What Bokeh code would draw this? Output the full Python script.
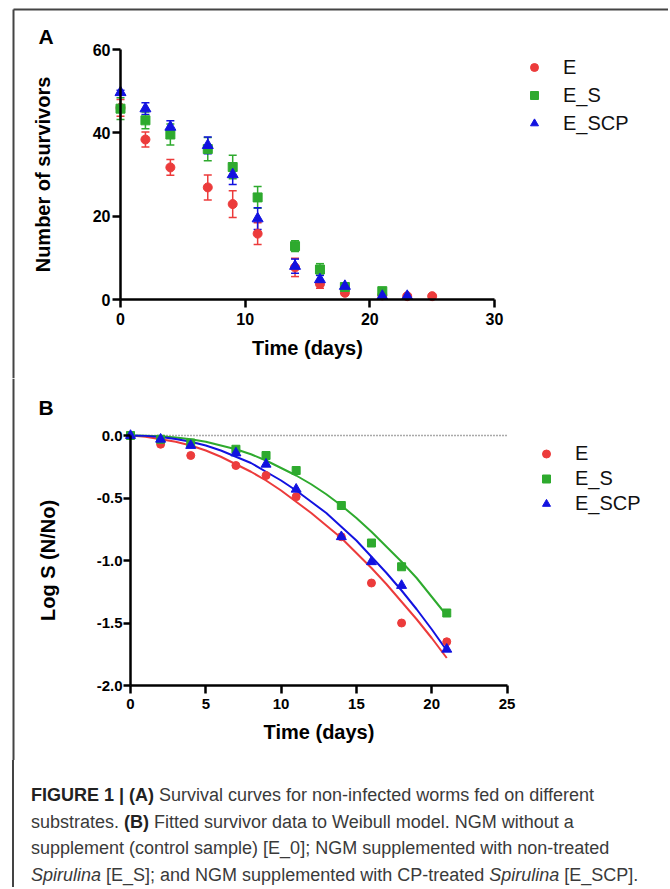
from bokeh.plotting import figure
from bokeh.models import (ColumnDataSource, Whisker, TeeHead, Legend, LegendItem, FixedTicker,
                          NumeralTickFormatter, Span, Label, Div, Range1d)
from bokeh.layouts import column
from bokeh.embed import file_html
from bokeh.resources import INLINE

# ---------------- data ----------------
# Panel A: number of survivors (mean +/- error)
days_E = [0, 2, 4, 7, 9, 11, 14, 16, 18, 21, 23, 25]
E_mean = [46.0, 38.4, 31.7, 26.9, 22.9, 15.8, 7.7, 3.7, 1.6, 1.0, 0.8, 0.8]
E_err = [2.0, 1.8, 1.9, 3.0, 3.2, 2.6, 2.2, 1.0, 0.6, 0.4, 0.3, 0.3]

days_ES = [0, 2, 4, 7, 9, 11, 14, 16, 18, 21]
ES_mean = [45.8, 43.0, 39.6, 36.1, 31.8, 24.5, 12.8, 7.2, 3.0, 2.0]
ES_err = [2.6, 2.0, 2.5, 2.8, 2.8, 2.6, 1.3, 1.4, 0.8, 0.5]

days_ESCP = [0, 2, 4, 7, 9, 11, 14, 16, 18, 21, 23]
ESCP_mean = [49.7, 45.8, 41.4, 37.0, 30.0, 19.4, 8.0, 4.8, 3.2, 0.8, 0.8]
ESCP_err = [0.5, 1.4, 1.5, 2.0, 2.4, 2.6, 1.7, 1.0, 0.8, 0.3, 0.3]

# Panel B: Log S (N/No) observations
days_B = [0, 2, 4, 7, 9, 11, 14, 16, 18, 21]
logE = [0.0, -0.07, -0.16, -0.24, -0.32, -0.49, -0.81, -1.18, -1.50, -1.65]
logES = [0.0, -0.03, -0.06, -0.11, -0.16, -0.28, -0.56, -0.86, -1.05, -1.42]
logESCP = [0.0, -0.03, -0.08, -0.14, -0.23, -0.43, -0.81, -1.01, -1.20, -1.71]

# Panel B: fitted (Weibull) curves
fit_days = [0, 1, 2, 3, 4, 5, 6, 7, 8, 9, 10, 11, 12, 13, 14, 15, 16, 17, 18, 19, 20, 21]
fitE = [0.0, -0.01, -0.03, -0.05, -0.08, -0.12, -0.17, -0.23, -0.29, -0.36, -0.44, -0.53,
        -0.62, -0.72, -0.82, -0.94, -1.06, -1.19, -1.33, -1.47, -1.62, -1.78]
fitES = [0.0, -0.001, -0.006, -0.016, -0.03, -0.05, -0.08, -0.11, -0.15, -0.20, -0.26, -0.32,
         -0.39, -0.47, -0.56, -0.66, -0.77, -0.89, -1.01, -1.14, -1.29, -1.44]
fitESCP = [0.0, -0.003, -0.012, -0.028, -0.05, -0.08, -0.12, -0.17, -0.22, -0.29, -0.36, -0.44,
           -0.53, -0.62, -0.73, -0.84, -0.97, -1.10, -1.24, -1.39, -1.55, -1.72]

series_names = ["E", "E_S", "E_SCP"]
xticks_A = [0, 10, 20, 30]
yticks_A = [0, 20, 40, 60]
xticks_B = [0, 5, 10, 15, 20, 25]
yticks_B = [-2.0, -1.5, -1.0, -0.5, 0.0]
ref_level_B = 0.0

# ---------------- style / layout ----------------
RED = "#ec3b3b"
GREEN = "#2eaa2e"
BLUE = "#1212e0"
FONT = "Liberation Sans"
W = 668
FRAME_COLOR = "#444444"


class Mapper:
    """pixel <-> data helper for a figure whose frame fills the whole canvas"""
    def __init__(self, w, h, x0px, sx, y0px, sy):
        self.w, self.h, self.x0, self.sx, self.y0, self.sy = w, h, x0px, sx, y0px, sy

    def x(self, px):
        return (px - self.x0) / self.sx

    def y(self, py):
        return (self.y0 - py) / self.sy

    def ranges(self):
        return Range1d(self.x(0), self.x(self.w)), Range1d(self.y(self.h), self.y(0))


def make_fig(m):
    xr, yr = m.ranges()
    p = figure(width=m.w, height=m.h, x_range=xr, y_range=yr, min_border=0,
               output_backend="svg", toolbar_location=None, title=None)
    p.xgrid.visible = False
    p.ygrid.visible = False
    p.outline_line_color = None
    p.background_fill_color = "white"
    p.border_fill_color = "white"
    return p


def style_axes(p, label_size, ylab_standoff, ylbl_standoff, ytick_out):
    for ax in (p.xaxis[0], p.yaxis[0]):
        ax.axis_line_width = 2.5
        ax.axis_line_color = "black"
        ax.major_tick_line_width = 2.5
        ax.major_tick_line_color = "black"
        ax.major_tick_out = 8
        ax.major_tick_in = 0
        ax.minor_tick_line_color = None
        ax.major_label_text_font = FONT
        ax.major_label_text_font_style = "bold"
        ax.major_label_text_font_size = label_size
        ax.major_label_text_color = "black"
        ax.axis_label_text_font = FONT
        ax.axis_label_text_font_style = "bold"
        ax.axis_label_text_font_size = "20px"
        ax.axis_label_text_color = "black"
    p.xaxis.major_label_standoff = 5
    p.yaxis.major_label_standoff = ylbl_standoff
    p.yaxis.major_tick_out = ytick_out
    p.xaxis.axis_label_standoff = 9
    p.yaxis.axis_label_standoff = ylab_standoff


def add_legend(p, renderers, loc, row_h):
    items = [LegendItem(label=n, renderers=[r]) for n, r in zip(series_names, renderers)]
    leg = Legend(items=items, location=loc, glyph_width=20, glyph_height=row_h,
                 label_height=row_h, label_standoff=19, spacing=0, padding=0, margin=0,
                 border_line_color=None, background_fill_alpha=0,
                 label_text_font=FONT, label_text_font_size="20px", label_text_color="#111111")
    p.add_layout(leg)


def add_panel_letter(p, m, text, px, py):
    p.add_layout(Label(x=m.x(px), y=m.y(py), text=text, text_font=FONT, text_font_size="21px",
                       text_font_style="bold", text_color="black", text_align="left",
                       text_baseline="middle"))


# ---------------- Panel A (page y 0..378) ----------------
mA = Mapper(W, 378, 120, 374 / 30, 299, 250 / 60)
pA = make_fig(mA)
style_axes(pA, "16px", 36, 2, 8)
pA.xaxis.ticker = FixedTicker(ticks=xticks_A)
pA.yaxis.ticker = FixedTicker(ticks=yticks_A)
pA.xaxis.fixed_location = 0
pA.yaxis.fixed_location = 0
pA.xaxis.bounds = (xticks_A[0], xticks_A[-1])
pA.yaxis.bounds = (yticks_A[0], yticks_A[-1])
pA.xaxis.axis_label = "Time (days)"
pA.yaxis.axis_label = "Number of survivors"
add_panel_letter(pA, mA, "A", 38, 35.5)
# page frame (top and left edges), placed in pixel terms through the mapper
pA.segment(x0=[mA.x(13), mA.x(13)], y0=[mA.y(9), mA.y(9)], x1=[mA.x(W), mA.x(13)],
           y1=[mA.y(9), mA.y(mA.h)], line_color=FRAME_COLOR, line_width=2)

rendA = []
for days, mean, err, col, marker, size in [
        (days_E, E_mean, E_err, RED, "circle", 9),
        (days_ES, ES_mean, ES_err, GREEN, "square", 9),
        (days_ESCP, ESCP_mean, ESCP_err, BLUE, "triangle", 11)]:
    src = ColumnDataSource(dict(x=days, y=mean,
                                lo=[mm - e for mm, e in zip(mean, err)],
                                hi=[mm + e for mm, e in zip(mean, err)]))
    pA.add_layout(Whisker(source=src, base="x", lower="lo", upper="hi", line_color=col,
                          line_width=1.5,
                          upper_head=TeeHead(size=8, line_color=col, line_width=1.5),
                          lower_head=TeeHead(size=8, line_color=col, line_width=1.5)))
    r = pA.scatter("x", "y", source=src, marker=marker, size=size, fill_color=col,
                   line_color=col)
    rendA.append(r)
add_legend(pA, rendA, (524, 241), 28)

# ---------------- Panel B (page y 378..760) ----------------
mB = Mapper(W, 382, 130, 376.5 / 25, 57, 125)
pB = make_fig(mB)
style_axes(pB, "15px", 35, 1, 7)
pB.xaxis.ticker = FixedTicker(ticks=xticks_B)
pB.yaxis.ticker = FixedTicker(ticks=yticks_B)
pB.yaxis.formatter = NumeralTickFormatter(format="0.0")
pB.xaxis.fixed_location = yticks_B[0]
pB.yaxis.fixed_location = 0
pB.xaxis.bounds = (xticks_B[0], xticks_B[-1])
pB.yaxis.bounds = (yticks_B[0], yticks_B[-1])
pB.xaxis.axis_label = "Time (days)"
pB.yaxis.axis_label = "Log S (N/No)"
add_panel_letter(pB, mB, "B", 38, 28.5)
pB.add_layout(Span(location=mB.x(13), dimension="height", line_color=FRAME_COLOR, line_width=2))

pB.line([xticks_B[0], xticks_B[-1]], [ref_level_B, ref_level_B], line_color="#555555",
        line_dash="1 2", line_width=1.5)
for fit, col in [(fitE, RED), (fitES, GREEN), (fitESCP, BLUE)]:
    pB.line(fit_days, fit, line_color=col, line_width=2)

rendB = []
for vals, col, marker, size in [(logE, RED, "circle", 8), (logES, GREEN, "square", 8),
                                (logESCP, BLUE, "triangle", 10)]:
    r = pB.scatter(days_B, vals, marker=marker, size=size, fill_color=col, line_color=col)
    rendB.append(r)
add_legend(pB, rendB, (536, 244), 25)

# ---------------- caption (page y 760..887) ----------------
cap_html = (
    '<div style="margin-left:12px; border-left:2px solid ' + FRAME_COLOR + '; height:127px; '
    'box-sizing:border-box; padding:22px 0 0 17px; font-family:\'Liberation Sans\'; '
    'font-size:18px; line-height:26.5px; color:#3a3a3a; white-space:nowrap;">'
    '<b style="color:#222">FIGURE 1 | (A)</b> Survival curves for non-infected worms fed on different<br>'
    'substrates. <b style="color:#222">(B)</b> Fitted survivor data to Weibull model. NGM without a<br>'
    'supplement (control sample) [E_0]; NGM supplemented with non-treated<br>'
    '<i>Spirulina</i> [E_S]; and NGM supplemented with CP-treated <i>Spirulina</i> [E_SCP].'
    '</div>'
)
cap = Div(text=cap_html, width=W, height=127, margin=0)

layout = column(pA, pB, cap)

open("out.html", "w").write(file_html(layout, INLINE))
